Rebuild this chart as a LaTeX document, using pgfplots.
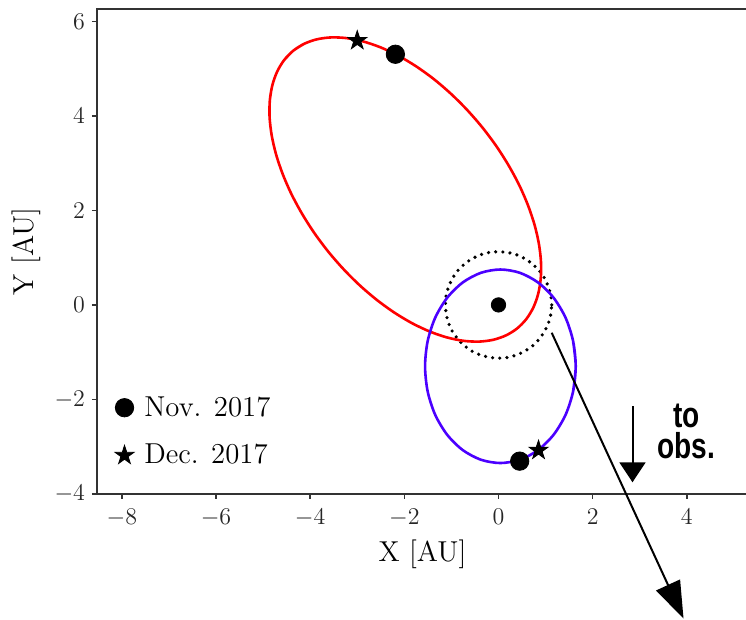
\documentclass[border=0pt]{standalone}
\usepackage{fontspec}
\newfontfamily\arial{Liberation Sans}
\usepackage{graphicx}
\usepackage{pgfplots}
\pgfplotsset{compat=1.18}
\usetikzlibrary{arrows.meta}
\definecolor{orbblue}{RGB}{75,0,255}
\pgfdeclareplotmark{fstar}{%
  \pgfpathmoveto{\pgfpointpolar{90}{\pgfplotmarksize}}%
  \pgfpathlineto{\pgfpointpolar{126}{0.382\pgfplotmarksize}}%
  \pgfpathlineto{\pgfpointpolar{162}{\pgfplotmarksize}}%
  \pgfpathlineto{\pgfpointpolar{198}{0.382\pgfplotmarksize}}%
  \pgfpathlineto{\pgfpointpolar{234}{\pgfplotmarksize}}%
  \pgfpathlineto{\pgfpointpolar{270}{0.382\pgfplotmarksize}}%
  \pgfpathlineto{\pgfpointpolar{306}{\pgfplotmarksize}}%
  \pgfpathlineto{\pgfpointpolar{342}{0.382\pgfplotmarksize}}%
  \pgfpathlineto{\pgfpointpolar{18}{\pgfplotmarksize}}%
  \pgfpathlineto{\pgfpointpolar{54}{0.382\pgfplotmarksize}}%
  \pgfpathclose
  \pgfusepathqfillstroke
}
\begin{document}
\begin{tikzpicture}
\begin{axis}[
  x=23.54pt, y=23.6pt,
  xmin=-8.528, xmax=5.3, ymin=-4, ymax=6.27,
  axis line style={line width=0.8pt, black!80},
  tick pos=left, tick align=outside,
  major tick length=2.5pt,
  every tick/.style={black!80, line width=0.8pt},
  xtick={-8,-6,...,4}, ytick={-4,-2,...,6},
  tick label style={font=\fontsize{12}{14}\selectfont, black!85},
  xticklabel style={yshift=-1.5pt},
  label style={font=\fontsize{14.4}{17}\selectfont},
  xlabel={X [AU]}, ylabel={Y [AU]},
  clip=false,
  legend style={draw=none, fill=none, at={(axis cs:-8.39,-1.76)}, anchor=north west,
    font=\fontsize{14.4}{17}\selectfont, row sep=8.5pt},
  legend cell align=left,
  legend image code/.code={\draw[#1] plot coordinates {(0.25cm,0cm)}; \path (0cm,0cm) (0.52cm,0cm);},
]
% dotted circle
\addplot[black, line width=1.8pt, line cap=round, dash pattern=on 0pt off 3.6pt, forget plot] coordinates {
(1.130,0) (1.113,0.196) (1.062,0.386) (0.979,0.565) (0.866,0.726) (0.726,0.866)
(0.565,0.979) (0.386,1.062) (0.196,1.113) (0,1.130) (-0.196,1.113) (-0.386,1.062)
(-0.565,0.979) (-0.726,0.866) (-0.866,0.726) (-0.979,0.565) (-1.062,0.386) (-1.113,0.196)
(-1.130,0) (-1.113,-0.196) (-1.062,-0.386) (-0.979,-0.565) (-0.866,-0.726) (-0.726,-0.866)
(-0.565,-0.979) (-0.386,-1.062) (-0.196,-1.113) (0,-1.130) (0.196,-1.113) (0.386,-1.062)
(0.565,-0.979) (0.726,-0.866) (0.866,-0.726) (0.979,-0.565) (1.062,-0.386) (1.113,-0.196)
(1.130,0)};
% red orbit
\addplot[red, line width=1.3pt, smooth, forget plot] coordinates {
(-4.127,5.532) (-4.360,5.385) (-4.553,5.187) (-4.701,4.943) (-4.803,4.656) (-4.857,4.330)
(-4.862,3.973) (-4.817,3.590) (-4.724,3.187) (-4.583,2.771) (-4.399,2.350) (-4.172,1.930)
(-3.909,1.519) (-3.612,1.124) (-3.287,0.752) (-2.940,0.408) (-2.577,0.100) (-2.203,-0.169)
(-1.826,-0.393) (-1.451,-0.568) (-1.085,-0.692) (-0.735,-0.762) (-0.406,-0.777) (-0.103,-0.737)
(0.167,-0.642) (0.400,-0.495) (0.593,-0.297) (0.741,-0.053) (0.843,0.234) (0.897,0.560)
(0.902,0.917) (0.857,1.300) (0.764,1.703) (0.623,2.119) (0.439,2.540) (0.212,2.960)
(-0.051,3.371) (-0.348,3.766) (-0.673,4.138) (-1.020,4.482) (-1.383,4.791) (-1.757,5.059)
(-2.134,5.283) (-2.509,5.458) (-2.875,5.582) (-3.225,5.652) (-3.554,5.667) (-3.857,5.627)
(-4.127,5.532) (-4.360,5.385) (-4.553,5.187)};
% blue orbit
\addplot[orbblue, line width=1.3pt, smooth, forget plot] coordinates {
(1.585,-1.831) (1.640,-1.300) (1.585,-0.769) (1.426,-0.275) (1.171,0.150) (0.840,0.475)
(0.454,0.680) (0.040,0.750) (-0.374,0.680) (-0.760,0.475) (-1.091,0.150) (-1.346,-0.275)
(-1.505,-0.769) (-1.560,-1.300) (-1.505,-1.831) (-1.346,-2.325) (-1.091,-2.750) (-0.760,-3.075)
(-0.374,-3.280) (0.040,-3.350) (0.454,-3.280) (0.840,-3.075) (1.171,-2.750) (1.426,-2.325)
(1.585,-1.831) (1.640,-1.300) (1.585,-0.769)};
% sun
\addplot[only marks, mark=*, mark size=3.6pt, black, forget plot] coordinates {(0,0)};
% arrows
\addplot[black, line width=1pt, -{Triangle[length=18.5pt, width=13pt]}, forget plot] coordinates {(1.13,-0.59) (3.93,-6.645)};
\addplot[black, line width=1pt, -{Triangle[length=10pt, width=13pt]}, forget plot] coordinates {(2.846,-2.144) (2.846,-3.758)};
% markers
\addplot[only marks, mark=*, mark size=4.6pt, black] coordinates {(-2.19,5.31) (0.45,-3.31)};
\addlegendentry{Nov. 2017}
\addplot[only marks, mark=fstar, mark size=5pt, black] coordinates {(-3.0,5.6) (0.85,-3.08)};
\addlegendentry{Dec. 2017}
\node[font=\arial\bfseries\fontsize{18}{15.5}\selectfont, align=center] at (axis cs:3.99,-2.675)
  {\scalebox{0.78}[1]{to}\\\scalebox{0.78}[1]{obs.}};
\coordinate (bbl) at (axis cs:-10.588,-6.674);
\coordinate (btr) at (axis cs:5.257,6.46);
\end{axis}
\pgfresetboundingbox
\useasboundingbox (bbl) rectangle (btr);
\end{tikzpicture}
\end{document}
